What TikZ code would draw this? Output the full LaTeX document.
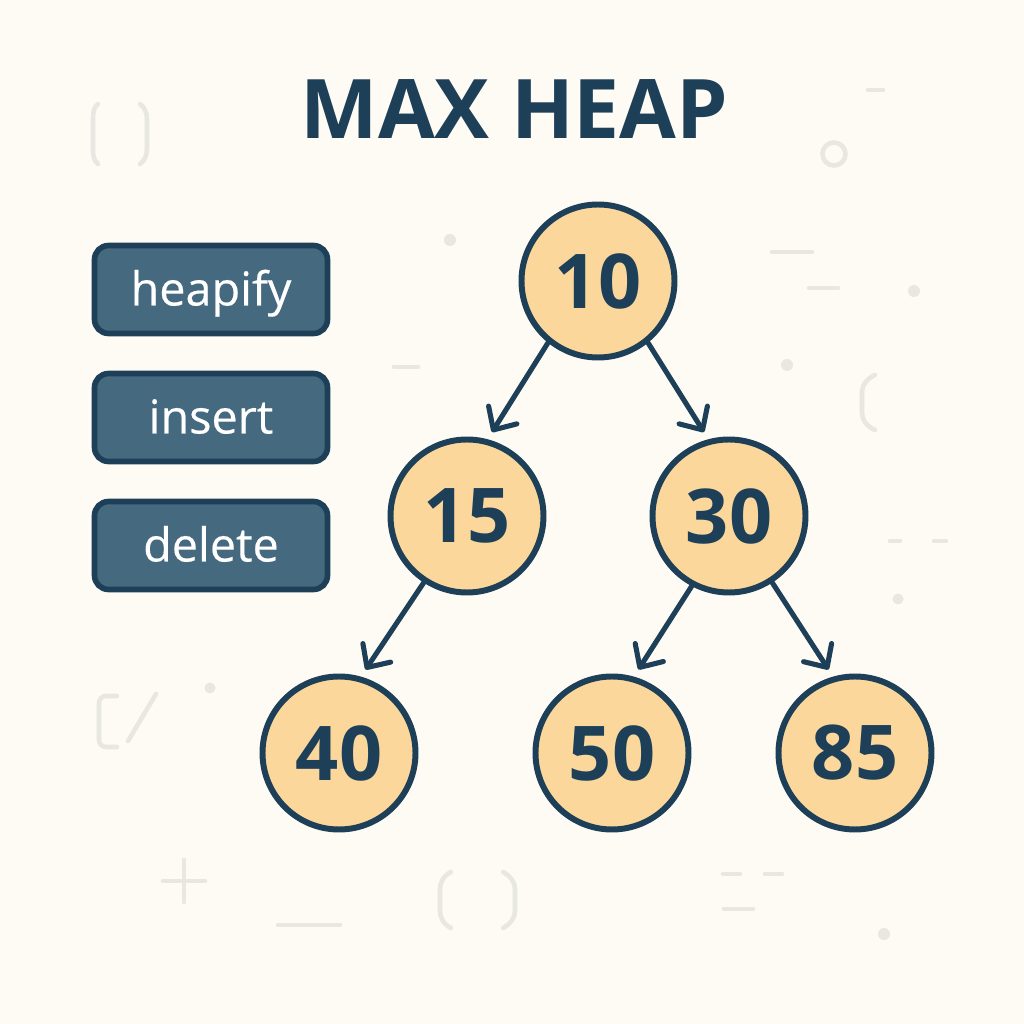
\documentclass[tikz,border=0pt]{standalone}
\usepackage{fontspec}
\setmainfont{Open Sans}
\newfontfamily\opfont[FakeBold=0.35]{Open Sans}
\usetikzlibrary{arrows.meta}
\definecolor{paper}{HTML}{FEFBF5}
\definecolor{navy}{HTML}{1D4058}
\definecolor{slate}{HTML}{45697F}
\definecolor{peach}{HTML}{FBD79B}
\definecolor{faint}{HTML}{E9E7E1}
\tikzset{
    heapnode/.style={circle,draw=navy,fill=peach,line width=1.7pt,minimum size=1.53cm,inner sep=0pt,text=navy,font=\fontsize{21.5}{24}\selectfont\bfseries},
    opbox/.style={rectangle,rounded corners=4pt,draw=navy,fill=slate,line width=1.6pt,minimum width=2.33cm,minimum height=0.88cm,text=white,text height=9.6pt,text depth=0.5pt,font=\fontsize{13.3}{16}\opfont},
    heaparrow/.style={draw=navy,line width=1.45pt,line cap=round,-{Straight Barb[length=5pt,width=9.5pt,line cap=round,line join=round]}},
    deco/.style={draw=faint,line width=1.3pt,line cap=round,fill=none},
}
\begin{document}
\begin{tikzpicture}
    \useasboundingbox (0,0) rectangle (10.24,10.24);
    \fill[paper] (0,0) rectangle (10.24,10.24);

    % faint background marks
    \draw[deco] (0.98,9.20) .. controls (0.94,9.17) and (0.93,9.12) .. (0.93,9.05) -- (0.93,8.75) .. controls (0.93,8.68) and (0.94,8.63) .. (0.98,8.60);
    \draw[deco] (1.40,9.20) .. controls (1.44,9.17) and (1.47,9.12) .. (1.47,9.05) -- (1.47,8.75) .. controls (1.47,8.68) and (1.44,8.63) .. (1.40,8.60);
    \draw[deco] (8.68,9.34) -- (8.83,9.34);
    \draw[deco] (8.34,8.70) circle (0.115cm);
    \draw[deco] (7.72,7.72) -- (8.12,7.72);
    \draw[deco] (8.09,7.36) -- (8.38,7.36);
    \fill[faint] (9.14,7.33) circle (0.06cm);
    \fill[faint] (4.50,7.84) circle (0.06cm);
    \draw[deco] (3.94,6.57) -- (4.18,6.57);
    \fill[faint] (7.87,6.59) circle (0.06cm);
    \draw[deco] (8.75,6.49) .. controls (8.66,6.45) and (8.62,6.38) .. (8.62,6.32) -- (8.62,6.11) .. controls (8.62,6.05) and (8.66,5.98) .. (8.75,5.94);
    \draw[deco] (8.90,4.83) -- (9.00,4.83);
    \draw[deco] (9.34,4.83) -- (9.46,4.83);
    \fill[faint] (8.98,4.25) circle (0.055cm);
    \draw[deco,rounded corners=2pt] (1.17,3.28) -- (0.99,3.28) -- (0.99,2.77) -- (1.17,2.77);
    \draw[deco] (1.56,3.30) -- (1.28,2.83);
    \fill[faint] (2.10,3.36) circle (0.055cm);
    \draw[deco] (1.63,1.43) -- (2.05,1.43);
    \draw[deco] (1.84,1.64) -- (1.84,1.22);
    \draw[deco] (2.78,0.99) -- (3.40,0.99);
    \draw[deco] (4.51,1.52) .. controls (4.43,1.48) and (4.40,1.41) .. (4.40,1.35) -- (4.40,1.13) .. controls (4.40,1.07) and (4.43,1.00) .. (4.51,0.96);
    \draw[deco] (5.03,1.52) .. controls (5.11,1.48) and (5.15,1.41) .. (5.15,1.35) -- (5.15,1.13) .. controls (5.15,1.07) and (5.11,1.00) .. (5.03,0.96);
    \draw[deco] (7.23,1.50) -- (7.40,1.50);
    \draw[deco] (7.65,1.50) -- (7.82,1.50);
    \draw[deco] (7.24,1.15) -- (7.53,1.15);
    \fill[faint] (8.84,0.90) circle (0.06cm);

    \node (title) at (5.145,9.15) {\fontsize{23.4}{26}\selectfont\bfseries\textcolor{navy}{MAX HEAP}};

    \node[opbox] (heapify) at (2.11,7.345) {heapify};
    \node[opbox] (insert) at (2.11,6.065) {insert};
    \node[opbox] (delete) at (2.11,4.785) {delete};

    \node[heapnode] (n10) at (5.98,7.43) {10};
    \node[heapnode] (n15) at (4.67,5.08) {15};
    \node[heapnode] (n30) at (7.29,5.08) {30};
    \node[heapnode] (n40) at (3.39,2.71) {40};
    \node[heapnode] (n50) at (6.12,2.71) {50};
    \node[heapnode] (n85) at (8.55,2.71) {85};

    \draw[heaparrow,shorten >=2.4pt] (n10.231) -- (n15.75);
    \draw[heaparrow,shorten >=2.4pt] (n10.309) -- (n30.105);
    \draw[heaparrow,shorten >=2.4pt] (n15.237) -- (n40.74);
    \draw[heaparrow,shorten >=2.4pt] (n30.242) -- (n50.74);
    \draw[heaparrow,shorten >=2.4pt] (n30.303) -- (n85.106);
\end{tikzpicture}
\end{document}
